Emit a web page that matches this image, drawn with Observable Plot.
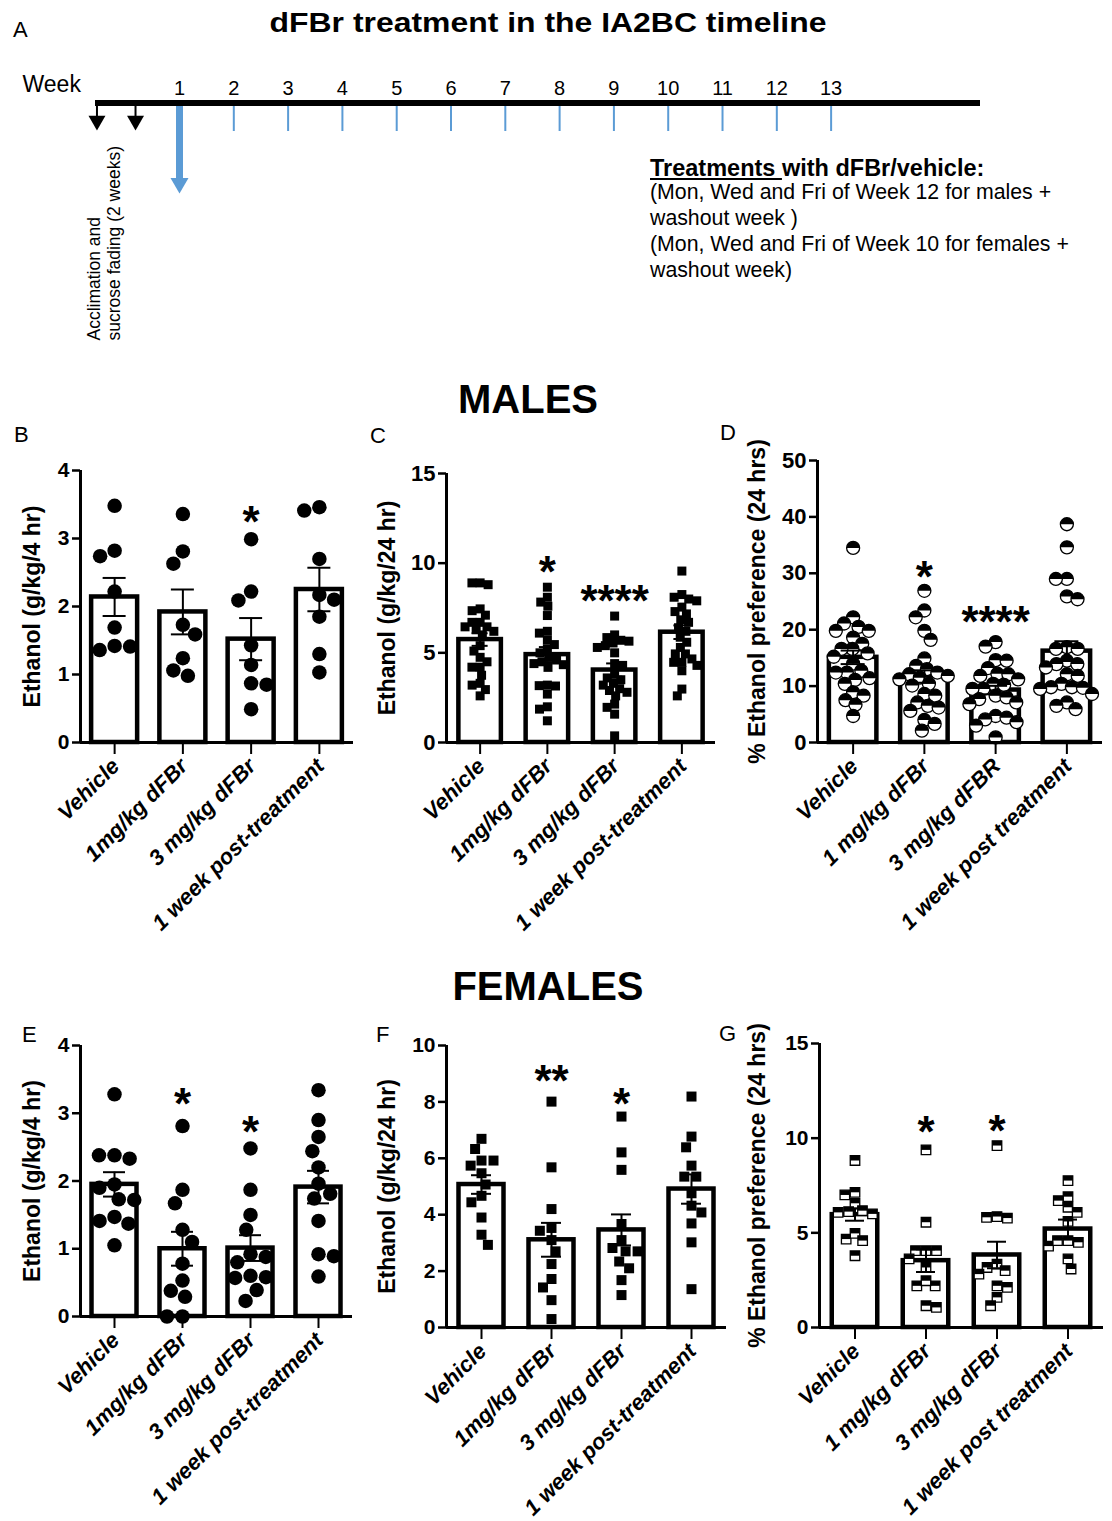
<!DOCTYPE html>
<html>
<head>
<meta charset="utf-8">
<script src="https://cdn.jsdelivr.net/npm/d3@7"></script>
<script src="https://cdn.jsdelivr.net/npm/@observablehq/plot@0.6"></script>
<style>
html, body { margin: 0; padding: 0; background: #fff; }
#fig { position: relative; width: 1112px; height: 1521px; background: #fff; overflow: hidden;
  font-family: "Liberation Sans", Arial, Helvetica, sans-serif; color: #000; }
.t { position: absolute; white-space: nowrap; line-height: 1; }
</style>
</head>
<body>
<div id="fig"></div>
<script>
// ---------------- DATA ----------------
// Panel A timeline
const weekLabels = [1, 2, 3, 4, 5, 6, 7, 8, 9, 10, 11, 12, 13];
const weekTicks = [2, 3, 4, 5, 6, 7, 8, 9, 10, 11, 12, 13];
const acclimationMarks = [-0.52, 0.19];   // two acclimation weeks before week 1
const treatmentStart = [1];
const acclimationText = ["Acclimation and", "sucrose fading (2 weeks)"];
const treatmentText = [
  "(Mon, Wed and Fri of Week 12 for males +",
  "washout week )",
  "(Mon, Wed and Fri of Week 10 for females +",
  "washout week)"
];

// category labels
const labelsB = ["Vehicle", "1mg/kg dFBr", "3 mg/kg dFBr", "1 week post-treatment"];
const labelsC = ["Vehicle", "1mg/kg dFBr", "3 mg/kg dFBr", "1 week post-treatment"];
const labelsD = ["Vehicle", "1 mg/kg dFBr", "3 mg/kg dFBR", "1 week post treatment"];
const labelsE = ["Vehicle", "1mg/kg dFBr", "3 mg/kg dFBr", "1 week post-treatment"];
const labelsF = ["Vehicle", "1mg/kg dFBr", "3 mg/kg dFBr", "1 week post-treatment"];
const labelsG = ["Vehicle", "1 mg/kg dFBr", "3 mg/kg dFBr", "1 week post treatment"];

// B: males, ethanol g/kg/4 hr
const valuesB = [
  [3.48, 2.82, 2.74, 2.22, 1.69, 1.42, 1.36, 1.41],
  [3.36, 2.81, 2.63, 1.73, 1.59, 1.24, 0.98, 1.06],
  [2.99, 2.09, 2.22, 1.43, 1.14, 0.87, 0.85, 0.49],
  [3.46, 3.41, 2.70, 2.17, 2.10, 1.85, 1.30, 1.03]
];
const meansB = [2.14, 1.92, 1.52, 2.25];
const semsB = [0.28, 0.33, 0.31, 0.32];
const starsB = [{g: 2, t: "*", y: 3.39}];

// C: males, ethanol g/kg/24 hr
const valuesC = [
  [8.9, 8.8, 8.9, 7.45, 7.1, 7.35, 6.7, 6.45, 6.2, 6.45, 6.7, 6.0, 6.3, 5.4, 5.1, 4.75, 4.5, 4.2, 4.2, 3.75, 3.2, 3.3, 2.95, 2.6],
  [8.66, 7.83, 7.6, 8.1, 7.08, 6.2, 6.1, 5.7, 5.46, 5.2, 5.0, 4.75, 4.6, 4.5, 4.34, 4.19, 4.4, 3.17, 3.2, 3.15, 2.7, 1.99, 1.86, 1.21],
  [7.05, 6.0, 5.85, 5.7, 5.55, 5.4, 5.65, 5.3, 5.0, 4.4, 4.3, 3.8, 3.6, 3.5, 3.3, 3.2, 3.0, 2.9, 2.8, 2.6, 2.14, 1.96, 1.58, 0.37],
  [9.56, 8.1, 8.0, 7.9, 8.25, 7.3, 7.17, 7.55, 6.84, 6.7, 6.4, 6.2, 5.87, 5.59, 5.3, 4.94, 4.66, 4.47, 4.0, 4.47, 4.94, 4.3, 2.98, 2.6]
];
const meansC = [5.74, 4.90, 4.04, 6.15];
const semsC = [0.35, 0.42, 0.37, 0.38];
const starsC = [{g: 1, t: "*", y: 10.06}, {g: 2, t: "****", y: 8.48}];

// D: males, % ethanol preference (24 hrs)
const valuesD = [
  [34.5, 22.2, 21.1, 20.5, 19.8, 19.8, 18.6, 17.5, 16.6, 16.6, 15.8, 15.2, 14.0, 12.4, 12.4, 12.7, 11.4, 11.1, 10.4, 8.9, 8.3, 7.5, 6.7, 4.7],
  [26.9, 23.4, 22.2, 19.8, 18.2, 14.9, 13.6, 13.0, 12.4, 12.1, 11.8, 11.5, 11.2, 10.4, 10.1, 8.6, 8.3, 7.1, 6.5, 6.2, 5.6, 4.0, 3.3, 2.1],
  [17.8, 17.0, 14.6, 14.5, 13.2, 12.2, 12.1, 11.8, 11.2, 10.4, 10.2, 9.5, 9.5, 8.3, 8.0, 7.7, 7.1, 6.8, 4.7, 4.4, 4.1, 3.6, 3.0, 0.9],
  [38.7, 34.6, 29.0, 29.0, 25.9, 25.4, 16.9, 16.6, 16.6, 14.5, 13.9, 13.9, 13.3, 12.1, 11.8, 10.4, 9.8, 9.8, 9.7, 9.5, 8.6, 7.1, 6.5, 5.9]
];
const meansD = [15.1, 11.7, 9.3, 16.2];
const semsD = [1.2, 1.1, 0.75, 1.75];
const starsD = [{g: 1, t: "*", y: 31.1}, {g: 2, t: "****", y: 23.1}];

// E: females, ethanol g/kg/4 hr
const valuesE = [
  [3.28, 2.38, 2.33, 2.38, 1.90, 1.95, 1.72, 1.73, 1.41, 1.37, 1.47, 1.05],
  [2.81, 1.87, 1.67, 1.28, 1.10, 0.78, 0.53, 0.38, 0.29, 0.0, 0.0],
  [2.48, 1.87, 1.50, 1.28, 0.92, 0.80, 0.88, 0.58, 0.60, 0.39, 0.23, 0.57],
  [3.34, 2.90, 2.65, 2.44, 2.20, 1.96, 1.81, 1.74, 1.41, 0.92, 0.89, 0.59]
];
const meansE = [1.95, 1.0, 1.01, 1.91];
const semsE = [0.18, 0.25, 0.19, 0.24];
const starsE = [{g: 1, t: "*", y: 3.29}, {g: 2, t: "*", y: 2.87}];

// F: females, ethanol g/kg/24 hr
const valuesF = [
  [6.69, 6.33, 5.92, 5.92, 5.74, 5.47, 5.07, 4.67, 4.44, 3.90, 3.29, 2.93],
  [8.01, 5.68, 4.20, 3.43, 3.10, 3.53, 2.70, 2.25, 1.72, 1.42, 0.97, 0.30],
  [7.48, 6.21, 5.59, 3.67, 3.10, 2.70, 2.82, 2.70, 2.34, 2.10, 1.68, 1.15],
  [8.19, 6.77, 6.39, 5.74, 5.35, 5.35, 4.76, 4.32, 4.08, 3.69, 3.02, 1.36]
];
const meansF = [5.07, 3.11, 3.46, 4.91];
const semsF = [0.33, 0.60, 0.55, 0.52];
const starsF = [{g: 1, t: "**", y: 9.11}, {g: 2, t: "*", y: 8.28}];

// G: females, % ethanol preference (24 hrs)
const valuesG = [
  [8.82, 7.14, 7.00, 6.56, 6.00, 6.08, 6.17, 6.12, 4.67, 4.97, 4.59, 3.79],
  [9.38, 5.56, 4.06, 4.06, 4.06, 3.62, 3.17, 2.20, 2.20, 2.47, 1.06, 1.15],
  [9.61, 5.82, 5.78, 5.86, 3.35, 3.17, 2.82, 3.00, 2.12, 2.20, 1.59, 1.15],
  [7.76, 6.91, 6.70, 6.35, 5.60, 6.08, 4.30, 4.59, 4.59, 4.50, 3.62, 3.09]
];
const meansG = [5.96, 3.53, 3.83, 5.2];
const semsG = [0.32, 0.60, 0.70, 0.50];
const starsG = [{g: 1, t: "*", y: 10.85}, {g: 2, t: "*", y: 10.93}];

// ---------------- RENDERING ----------------
const fig = document.getElementById("fig");
const FONT = '"Liberation Sans", Arial, Helvetica, sans-serif';
const BLUE = "#5b9bd5";

const triangleDown = {draw(ctx, size) {
  const y = Math.sqrt(size / (3 * Math.sqrt(3)));
  ctx.moveTo(0, 2 * y); ctx.lineTo(-Math.sqrt(3) * y, -y); ctx.lineTo(Math.sqrt(3) * y, -y); ctx.closePath();
}};
const topHalfCircle = {draw(ctx, size) {
  const r = Math.sqrt(size / Math.PI);
  ctx.moveTo(r, 0); ctx.arc(0, 0, r, 0, Math.PI, true); ctx.closePath();
}};
const topHalfSquare = {draw(ctx, size) {
  const s = Math.sqrt(size) / 2;
  ctx.moveTo(-s, -s); ctx.lineTo(s, -s); ctx.lineTo(s, 0); ctx.lineTo(-s, 0); ctx.closePath();
}};

function place(svg, x, y) {
  svg.style.position = "absolute";
  svg.style.left = x + "px";
  svg.style.top = y + "px";
  svg.style.overflow = "visible";
  svg.style.background = "transparent";
  fig.appendChild(svg);
}

function addText(html, o) {
  const d = document.createElement("div");
  d.className = "t";
  d.innerHTML = html;
  d.style.fontSize = o.size + "px";
  d.style.fontWeight = o.weight || "normal";
  d.style.top = (o.baseline - 0.8465 * o.size) + "px";
  if (o.center !== undefined) {
    d.style.left = (o.center - 600) + "px";
    d.style.width = "1200px";
    d.style.textAlign = "center";
  } else {
    d.style.left = o.left + "px";
  }
  if (o.scaleX) d.style.transform = `scaleX(${o.scaleX})`;
  fig.appendChild(d);
}

// ---- Panel A : timeline ----
(function timeline() {
  const top = 60;
  const Y = (p) => p - top;
  const svg = Plot.plot({
    width: 1112, height: 300,
    marginLeft: 95, marginRight: 132, marginTop: 0, marginBottom: 0,
    x: {domain: [-0.547, 15.751], axis: null},
    y: {domain: [0, 300], range: [0, 300], axis: null},
    style: {fontFamily: FONT, background: "transparent", overflow: "visible"},
    marks: [
      Plot.ruleX(weekTicks, {x: (d) => d, y1: Y(104), y2: Y(131), stroke: BLUE, strokeWidth: 2}),
      Plot.ruleX(acclimationMarks, {x: (d) => d, y1: Y(102), y2: Y(116), stroke: "black", strokeWidth: 2}),
      Plot.dot(acclimationMarks, {x: (d) => d, y: Y(120.2), symbol: triangleDown, r: 6.3, fill: "black", stroke: "none"}),
      Plot.ruleX(treatmentStart, {x: (d) => d, y1: Y(103), y2: Y(179), stroke: BLUE, strokeWidth: 7}),
      Plot.dot(treatmentStart, {x: (d) => d, y: Y(182.6), symbol: triangleDown, r: 6.7, fill: BLUE, stroke: "none"}),
      Plot.ruleY([Y(102.5)], {stroke: "black", strokeWidth: 6}),
      Plot.text(weekLabels, {x: (d) => d, y: Y(94), text: (d) => String(d), fontSize: 20, lineAnchor: "bottom"}),
      Plot.text(["Week"], {frameAnchor: "left", y: Y(91), dx: -73, textAnchor: "start", lineAnchor: "bottom", fontSize: 23}),
      Plot.text([acclimationText[0]], {x: () => acclimationMarks[0], y: Y(340), dx: 3.5, rotate: -90, textAnchor: "start", lineAnchor: "bottom", fontSize: 17.5}),
      Plot.text([acclimationText[1]], {x: () => acclimationMarks[0], y: Y(340), dx: 23.5, rotate: -90, textAnchor: "start", lineAnchor: "bottom", fontSize: 17.5})
    ]
  });
  place(svg, 0, top);
})();

// ---- compact beeswarm offsets (pixels) ----
function swarm(vals, ppu, D) {
  const idx = vals.map((_, i) => i).sort((a, b) => vals[b] - vals[a]);
  const placed = [], off = new Array(vals.length);
  let side = -1;
  for (const i of idx) {
    const y = vals[i] * ppu;
    const near = placed.filter((p) => Math.abs(p.y - y) < D);
    const cands = [0];
    for (const p of near) {
      const dx = Math.sqrt(D * D - (p.y - y) ** 2);
      cands.push(p.x - dx, p.x + dx);
    }
    cands.sort((a, b) => (Math.abs(a) - Math.abs(b)) || (side < 0 ? a - b : b - a));
    const free = (c) => near.every((p) => (p.x - c) ** 2 + (p.y - y) ** 2 >= D * D - 1e-3);
    let x = 0;
    for (const c of cands) { if (free(c)) { x = c; break; } }
    if (x !== 0 && Math.sign(x) === side) side = -side;
    off[i] = x;
    placed.push({x, y});
  }
  return off;
}

function panel(cfg) {
  const [bx, by, bw, bh] = cfg.box;
  const step = (cfg.right - cfg.left) / 4;
  const ppu = (cfg.bottom - cfg.top) / cfg.yMax;
  const pts = [];
  cfg.values.forEach((vals, g) => {
    const off = swarm(vals, ppu, cfg.collide);
    vals.forEach((v, k) => pts.push({g, v, x: g + off[k] / step}));
  });
  const bars = cfg.means.map((m, g) => ({g, m, s: cfg.sems[g]}));
  const hw = cfg.barHalf / step, cw = cfg.capHalf / step;

  let pointMarks;
  if (cfg.marker === "circle") {
    pointMarks = [Plot.dot(pts, {x: "x", y: "v", r: cfg.size / 2, fill: "black", stroke: "none"})];
  } else if (cfg.marker === "square") {
    pointMarks = [Plot.dot(pts, {x: "x", y: "v", r: cfg.size / Math.sqrt(Math.PI), symbol: "square", fill: "black", stroke: "none"})];
  } else if (cfg.marker === "halfCircle") {
    pointMarks = [
      Plot.dot(pts, {x: "x", y: "v", r: cfg.size / 2, fill: "white", stroke: "black", strokeWidth: 1.3}),
      Plot.dot(pts, {x: "x", y: "v", r: cfg.size / 2, symbol: topHalfCircle, fill: "black", stroke: "none"})
    ];
  } else {
    pointMarks = [
      Plot.dot(pts, {x: "x", y: "v", r: cfg.size / Math.sqrt(Math.PI), symbol: "square", fill: "white", stroke: "black", strokeWidth: 1.3}),
      Plot.dot(pts, {x: "x", y: "v", r: cfg.size / Math.sqrt(Math.PI), symbol: topHalfSquare, fill: "black", stroke: "none"})
    ];
  }

  const svg = Plot.plot({
    width: bw, height: bh,
    marginLeft: cfg.left - bx, marginRight: bx + bw - cfg.right,
    marginTop: cfg.top - by, marginBottom: by + bh - cfg.bottom,
    x: {domain: [-0.5, 3.5]},
    y: {domain: [0, cfg.yMax]},
    style: {fontFamily: FONT, fontWeight: "bold", background: "transparent", overflow: "visible"},
    marks: [
      Plot.rectY(bars, {x1: (d) => d.g - hw, x2: (d) => d.g + hw, y1: 0, y2: "m", fill: "white", stroke: "black", strokeWidth: 4.5}),
      ...pointMarks,
      Plot.ruleX(bars, {x: "g", y1: (d) => d.m - d.s, y2: (d) => d.m + d.s, stroke: "black", strokeWidth: 2}),
      Plot.ruleY(bars, {x1: (d) => d.g - cw, x2: (d) => d.g + cw, y: (d) => d.m + d.s, stroke: "black", strokeWidth: 2}),
      Plot.ruleY(bars, {x1: (d) => d.g - cw, x2: (d) => d.g + cw, y: (d) => d.m - d.s, stroke: "black", strokeWidth: 2}),
      Plot.ruleX([-0.5], {stroke: "black", strokeWidth: 3}),
      Plot.ruleY([0], {stroke: "black", strokeWidth: 3}),
      Plot.axisY({ticks: cfg.yTicks, tickFormat: (d) => String(d), tickSize: 8, tickPadding: 3, fontSize: cfg.tickFont, fontWeight: "bold", strokeWidth: 2.5, label: null}),
      Plot.axisX({ticks: [0, 1, 2, 3], tickSize: 12, tickFormat: () => "", strokeWidth: 2, label: null}),
      Plot.text(cfg.labels, {x: (d, i) => i, text: (d) => d, frameAnchor: "bottom", dx: -5, dy: 14, rotate: -45,
        textAnchor: "end", lineAnchor: "top", fontSize: 22, fontWeight: "bold", fontStyle: "italic"}),
      Plot.text([cfg.yLabel], {frameAnchor: "left", dx: cfg.labelDx, rotate: -90, textAnchor: "middle", lineAnchor: "middle", fontSize: 23, fontWeight: "bold"}),
      Plot.text(cfg.stars, {x: "g", y: "y", text: "t", fontSize: 44, fontWeight: "bold", lineAnchor: "middle", dy: 11})
    ]
  });
  place(svg, bx, by);
}

panel({box: [0, 430, 365, 520], left: 80, right: 353, top: 470, bottom: 742, yMax: 4, yTicks: [0, 1, 2, 3, 4],
  values: valuesB, means: meansB, sems: semsB, stars: starsB, labels: labelsB, yLabel: "Ethanol (g/kg/4 hr)",
  marker: "circle", size: 14.5, collide: 15.5, barHalf: 23, capHalf: 11.5, labelDx: -48, tickFont: 21});
panel({box: [365, 430, 360, 520], left: 446, right: 715, top: 473, bottom: 742, yMax: 15, yTicks: [0, 5, 10, 15],
  values: valuesC, means: meansC, sems: semsC, stars: starsC, labels: labelsC, yLabel: "Ethanol (g/kg/24 hr)",
  marker: "square", size: 9, collide: 8.2, barHalf: 21.25, capHalf: 8, labelDx: -59, tickFont: 22});
panel({box: [725, 430, 387, 520], left: 817, right: 1102, top: 460, bottom: 742, yMax: 50, yTicks: [0, 10, 20, 30, 40, 50],
  values: valuesD, means: meansD, sems: semsD, stars: starsD, labels: labelsD, yLabel: "% Ethanol preference (24 hrs)",
  marker: "halfCircle", size: 13, collide: 11, barHalf: 23.75, capHalf: 12, labelDx: -60, tickFont: 22});
panel({box: [0, 1015, 365, 506], left: 80, right: 352, top: 1045, bottom: 1316, yMax: 4, yTicks: [0, 1, 2, 3, 4],
  values: valuesE, means: meansE, sems: semsE, stars: starsE, labels: labelsE, yLabel: "Ethanol (g/kg/4 hr)",
  marker: "circle", size: 14.5, collide: 15.5, barHalf: 22.5, capHalf: 11, labelDx: -48, tickFont: 21});
panel({box: [365, 1015, 360, 506], left: 446, right: 726, top: 1045, bottom: 1327, yMax: 10, yTicks: [0, 2, 4, 6, 8, 10],
  values: valuesF, means: meansF, sems: semsF, stars: starsF, labels: labelsF, yLabel: "Ethanol (g/kg/24 hr)",
  marker: "square", size: 10, collide: 12, barHalf: 22.5, capHalf: 10, labelDx: -59, tickFont: 21});
panel({box: [725, 1015, 387, 506], left: 819, right: 1103, top: 1043, bottom: 1327, yMax: 15, yTicks: [0, 5, 10, 15],
  values: valuesG, means: meansG, sems: semsG, stars: starsG, labels: labelsG, yLabel: "% Ethanol preference (24 hrs)",
  marker: "halfSquare", size: 9.5, collide: 10.5, barHalf: 22.75, capHalf: 9.5, labelDx: -62, tickFont: 21});

// ---- HTML text: titles, panel letters, treatment notes ----
addText("dFBr treatment in the IA2BC timeline", {center: 548, baseline: 33, size: 28, weight: "bold", scaleX: 1.14});
addText("A", {left: 13, baseline: 38, size: 22});
addText("<u>Treatments </u>with dFBr/vehicle:", {left: 650, baseline: 176.5, size: 23.5, weight: "bold"});
treatmentText.forEach((t, i) => addText(t, {left: 650, baseline: [200, 226.5, 251.7, 278][i], size: 21.3}));
addText("MALES", {center: 528, baseline: 413, size: 40, weight: "bold"});
addText("FEMALES", {center: 548, baseline: 1000, size: 40, weight: "bold"});
addText("B", {left: 14, baseline: 443, size: 22});
addText("C", {left: 370, baseline: 444, size: 22});
addText("D", {left: 720, baseline: 441, size: 22});
addText("E", {left: 22, baseline: 1043, size: 22});
addText("F", {left: 376, baseline: 1043, size: 22});
addText("G", {left: 719, baseline: 1042, size: 22});
</script>
</body>
</html>
